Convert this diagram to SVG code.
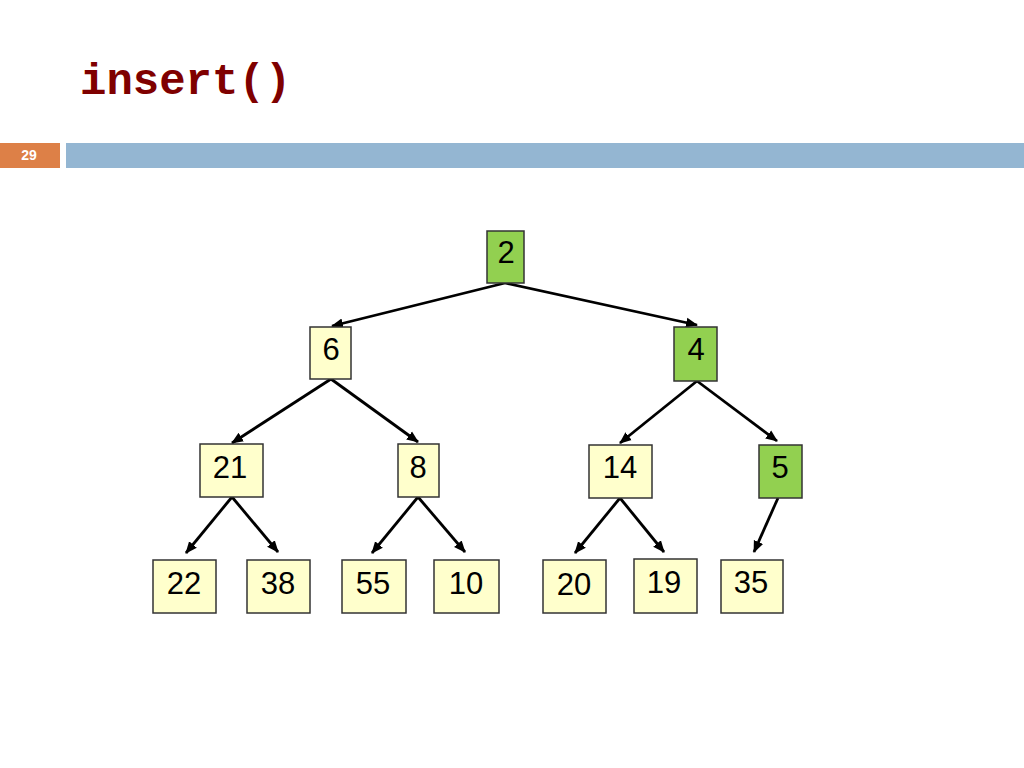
<svg xmlns="http://www.w3.org/2000/svg" width="1024" height="768" viewBox="0 0 1024 768">
<style>
.n{fill:#ffffcc;stroke:#333;stroke-width:1.5}
.g{fill:#92d050;stroke:#333;stroke-width:1.5}
.t{font-family:"Liberation Sans",Arial,sans-serif;font-size:31px;fill:#000;text-anchor:middle}
.e{stroke:#000;stroke-width:2.8;fill:none;marker-end:url(#a)}
</style>
<defs>
<marker id="a" markerUnits="userSpaceOnUse" markerWidth="12" markerHeight="12" viewBox="0 0 12 12" refX="11" refY="6" orient="auto">
<path d="M0,1 L12,6 L0,11 Z" fill="#000"/>
</marker>
</defs>
<rect width="1024" height="768" fill="#fff"/>
<text x="80" y="94" font-family="'Liberation Mono','Courier New',monospace" font-weight="bold" font-size="44" fill="#7f0000">insert()</text>
<rect x="0" y="143" width="60" height="25" fill="#dd8047"/>
<rect x="66" y="143" width="958" height="25" fill="#94b6d2"/>
<text x="29" y="160" font-family="'Liberation Sans',Arial,sans-serif" font-weight="bold" font-size="14" fill="#fff" text-anchor="middle">29</text>
<g id="edges">
<line class="e" x1="505" y1="283" x2="332" y2="326"/>
<line class="e" x1="505" y1="283" x2="697" y2="325"/>
<line class="e" x1="331" y1="379" x2="232" y2="443"/>
<line class="e" x1="331" y1="379" x2="418" y2="442"/>
<line class="e" x1="697" y1="381" x2="620" y2="443"/>
<line class="e" x1="697" y1="381" x2="777" y2="441"/>
<line class="e" x1="232" y1="497" x2="186" y2="553"/>
<line class="e" x1="232" y1="497" x2="278" y2="552"/>
<line class="e" x1="418" y1="497" x2="372" y2="553"/>
<line class="e" x1="418" y1="497" x2="465" y2="552"/>
<line class="e" x1="620" y1="498" x2="575" y2="553"/>
<line class="e" x1="620" y1="498" x2="664" y2="552"/>
<line class="e" x1="778" y1="498" x2="754" y2="552"/>
</g>
<g id="n2"><rect class="g" x="487" y="231" width="37" height="52"/><text class="t" x="506" y="263">2</text></g>
<g id="n6"><rect class="n" x="310" y="327" width="41" height="52"/><text class="t" x="331" y="360">6</text></g>
<g id="n4"><rect class="g" x="674" y="327" width="43" height="54"/><text class="t" x="696" y="360">4</text></g>
<g id="n21"><rect class="n" x="200" y="444" width="63" height="53"/><text class="t" x="230" y="478">21</text></g>
<g id="n8"><rect class="n" x="398" y="444" width="41" height="53"/><text class="t" x="418" y="478">8</text></g>
<g id="n14"><rect class="n" x="589" y="445" width="63" height="53"/><text class="t" x="620" y="478">14</text></g>
<g id="n5"><rect class="g" x="759" y="445" width="43" height="53"/><text class="t" x="780" y="478">5</text></g>
<g id="n22"><rect class="n" x="153" y="560" width="63" height="53"/><text class="t" x="184" y="594">22</text></g>
<g id="n38"><rect class="n" x="247" y="560" width="63" height="53"/><text class="t" x="278" y="594">38</text></g>
<g id="n55"><rect class="n" x="342" y="560" width="64" height="53"/><text class="t" x="373" y="594">55</text></g>
<g id="n10"><rect class="n" x="434" y="560" width="65" height="53"/><text class="t" x="466" y="594">10</text></g>
<g id="n20"><rect class="n" x="543" y="560" width="63" height="53"/><text class="t" x="574" y="595">20</text></g>
<g id="n19"><rect class="n" x="634" y="559" width="63" height="54"/><text class="t" x="664" y="593">19</text></g>
<g id="n35"><rect class="n" x="721" y="560" width="62" height="53"/><text class="t" x="751" y="593">35</text></g>
</svg>
